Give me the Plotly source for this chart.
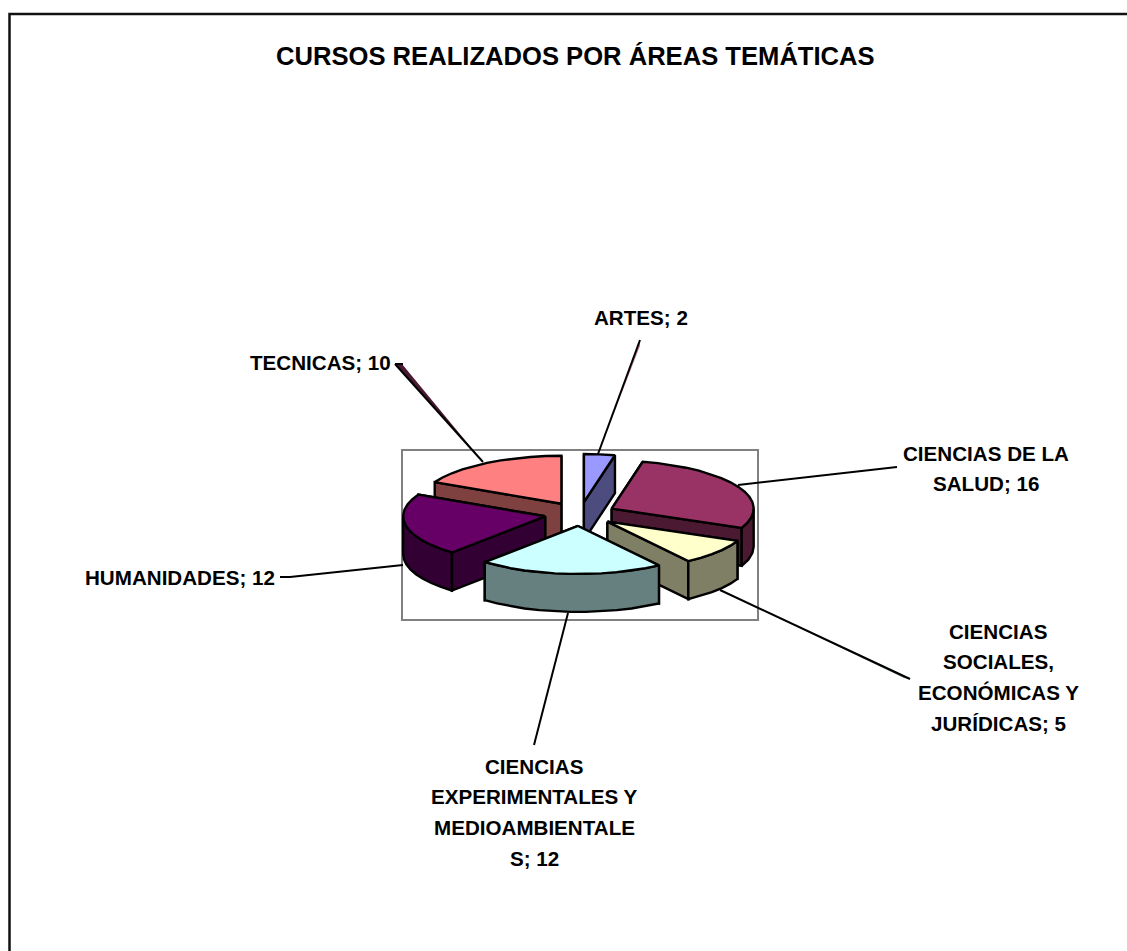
import numpy as np
import plotly.graph_objects as go

# chart data, in pie order (clockwise from 12 o'clock)
areas = ['ARTES', 'CIENCIAS DE LA SALUD', 'CIENCIAS SOCIALES, ECONÓMICAS Y JURÍDICAS',
         'CIENCIAS EXPERIMENTALES Y MEDIOAMBIENTALES', 'HUMANIDADES', 'TECNICAS']
courses = [2, 16, 5, 12, 12, 10]
title_text = 'CURSOS REALIZADOS POR ÁREAS TEMÁTICAS'
top_colors = ['#9999FF', '#993366', '#FFFFCC', '#CCFFFF', '#660066', '#FF8080']
side_colors = ['#4C4C7F', '#4C1933', '#7F7F66', '#667F7F', '#330033', '#7F4040']
draw_order = [0, 5, 1, 4, 2, 3]  # back to front

# how the labels wrap in the picture
label_lines = [['ARTES; 2'],
               ['CIENCIAS DE LA', 'SALUD; 16'],
               ['CIENCIAS', 'SOCIALES,', 'ECONÓMICAS Y', 'JURÍDICAS; 5'],
               ['CIENCIAS', 'EXPERIMENTALES Y', 'MEDIOAMBIENTALE', 'S; 12'],
               ['HUMANIDADES; 12'],
               ['TECNICAS; 10']]
label_pos = [(641, 317), (986, 453), (998, 631), (534, 766), (180, 577), (320, 362)]
line_step = 30.8

# leader lines: start, end, sliver colour and the sliver's third corner
leaders = [((598, 454), (640, 340), '#C08090', (640, 346)),
           ((738, 485), (897, 467), None, None),
           ((720, 590), (910, 679), '#667F7F', (904, 678)),
           ((568, 613), (534, 745), None, None),
           ((403, 565), (290, 577), None, None),
           ((483, 462), (395, 364), '#4C1933', (402, 364))]

# 3d pie projection
cx, cy = 580, 514
rx, ry = 142, 48
depth = 38
explode = 0.25

fig = go.Figure()


def poly(xs, ys, color):
    fig.add_trace(go.Scatter(x=list(xs) + [xs[0]], y=list(ys) + [ys[0]], mode='lines', fill='toself',
                             fillcolor=color, line=dict(color='black', width=2.4), hoverinfo='skip',
                             showlegend=False))


total = sum(courses)
edges = np.concatenate([[0], np.cumsum(courses)]) / total * 2 * np.pi

for i in draw_order:
    a0, a1 = edges[i], edges[i + 1]
    mid = (a0 + a1) / 2
    tx = cx + explode * rx * np.sin(mid)
    ty = cy - explode * ry * np.cos(mid)
    n = max(2, int(np.degrees(a1 - a0) / 6) + 1)
    arc = np.linspace(a0, a1, n)
    ax = tx + rx * np.sin(arc)
    ay = ty - ry * np.cos(arc)

    # cut faces, the one further back first
    faces = [a0, a1]
    faces.sort(key=lambda a: -np.cos(a))
    for a in faces:
        ex = tx + rx * np.sin(a)
        ey = ty - ry * np.cos(a)
        poly([tx, ex, ex, tx], [ty, ey, ey + depth, ty + depth], side_colors[i])

    # outer rim, only the part facing the viewer
    lo, hi = max(a0, np.pi / 2), min(a1, 3 * np.pi / 2)
    if hi > lo:
        rim = np.linspace(lo, hi, max(2, int(np.degrees(hi - lo) / 6) + 1))
        rimx = tx + rx * np.sin(rim)
        rimy = ty - ry * np.cos(rim)
        poly(list(rimx) + list(rimx[::-1]), list(rimy) + list(rimy[::-1] + depth), side_colors[i])

    poly([tx] + list(ax), [ty] + list(ay), top_colors[i])

shapes = [
    # chart frame and plot area box
    dict(type='rect', x0=9.5, y0=14, x1=1150, y1=980, line=dict(color='#111111', width=2.5), layer='below'),
    dict(type='rect', x0=402, y0=450, x1=758, y1=620, line=dict(color='#808080', width=2), layer='below'),
]
for (x0, y0), (x1, y1), col, corner in leaders:
    if col:
        shapes.append(dict(type='path', path='M %d,%d L %d,%d L %d,%d Z' % (x0, y0, x1, y1, corner[0], corner[1]),
                           fillcolor=col, line=dict(width=0), layer='below'))
    shapes.append(dict(type='line', x0=x0, y0=y0, x1=x1, y1=y1, line=dict(color='black', width=2)))
# short horizontal ticks by the one-line labels
shapes.append(dict(type='line', x0=280, y0=577, x1=290, y1=577, line=dict(color='black', width=2)))
shapes.append(dict(type='line', x0=395, y0=364, x1=403, y1=364, line=dict(color='black', width=2)))

annotations = [dict(x=575, y=56, text='<b>%s</b>' % title_text, showarrow=False,
                    font=dict(size=25.6, color='black'))]
for lines, (lx, ly) in zip(label_lines, label_pos):
    for k, line in enumerate(lines):
        annotations.append(dict(x=lx, y=ly + k * line_step, text='<b>%s</b>' % line, showarrow=False,
                                font=dict(size=20.6, color='black')))

fig.update_layout(
    width=1127,
    height=951,
    margin=dict(l=0, r=0, t=0, b=0),
    paper_bgcolor='white',
    plot_bgcolor='white',
    font=dict(family='Liberation Sans'),
    xaxis=dict(range=[0, 1127], visible=False, fixedrange=True),
    yaxis=dict(range=[951, 0], visible=False, fixedrange=True),
    shapes=shapes,
    annotations=annotations,
)

fig.write_html("out.html", config=dict(displayModeBar=False),
               post_script="document.body.style.margin='0';document.body.style.overflow='hidden';")
